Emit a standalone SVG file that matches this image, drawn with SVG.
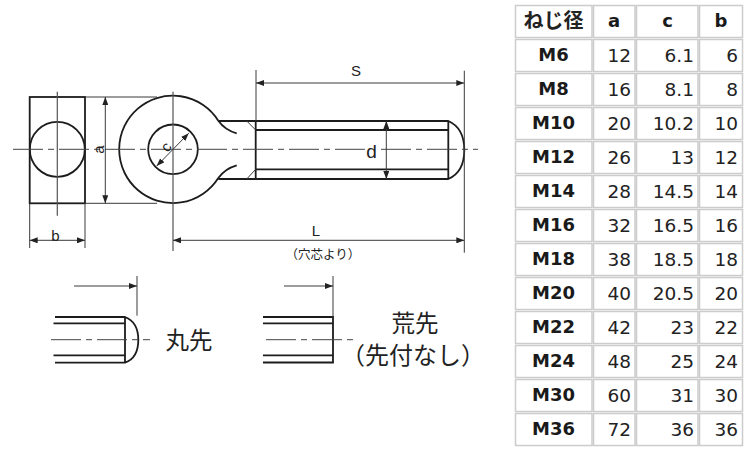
<svg xmlns="http://www.w3.org/2000/svg" width="750" height="450" viewBox="0 0 750 450">
<style>
.k{fill:none;stroke:#1c1c1c;stroke-width:1.8}
.t{fill:none;stroke:#3a3a3a;stroke-width:1}
.c{fill:none;stroke:#444;stroke-width:1;stroke-dasharray:30 5 6 5}
.v{fill:none;stroke:#555;stroke-width:1.2}
.d{font-family:"Liberation Sans",Arial,sans-serif;font-size:15px;fill:#222;text-anchor:middle}
.j{font-family:"Noto Sans CJK JP","Noto Sans",sans-serif;fill:#222;text-anchor:middle}
.cell{fill:#fff;stroke:#ccc;stroke-width:1.5}
.h{font-family:"DejaVu Sans",Verdana,sans-serif;font-size:18px;font-weight:bold;fill:#1a1a1a;text-anchor:middle}
.n{font-family:"DejaVu Sans",Verdana,sans-serif;font-size:18.5px;fill:#222;text-anchor:end}
</style>
<defs>
<marker id="a" viewBox="0 0 8 6" refX="8" refY="3" markerWidth="8" markerHeight="6" markerUnits="userSpaceOnUse" orient="auto-start-reverse"><path d="M0 0L8 3L0 6Z" fill="#222"/></marker>
</defs>
<rect width="750" height="450" fill="#fff"/>
<g id="block">
<rect class="k" x="29.7" y="97" width="55.3" height="106.3"/>
<circle class="k" cx="57.3" cy="149.3" r="27.5"/>
</g>
<g id="eye">
<path class="k" d="M218.3 120.7A53.7 53.7 0 1 0 218.3 178"/>
<circle class="k" cx="173" cy="149.3" r="24.8"/>
<path class="k" d="M218.3 120.7Q225 130 236.7 133.3M218.3 178Q225 168.600 236.7 165.300"/>
</g>
<g id="shaft">
<path class="k" d="M218.3 121H448.300Q464.300 128 464.300 150T448.300 179H218.300M255.700 121V179M448.300 121V179M255.700 130H448.300M255.700 169.300H448.300"/>
<path class="t" d="M246.700 121L255.700 130M246.700 179L255.700 169.300"/>
</g>
<g id="connectors">
<path class="c" d="M13 149.300H478"/>
<path class="v" d="M57.300 91.700V215.700M173 91.700V251"/>
<path class="t" d="M85 97H157M85 203.300H157M29.700 203.300V248M85 203.300V248M256 70V121M464.300 70.700V252.700"/>
<path class="t" marker-start="url(#a)" marker-end="url(#a)" d="M105.300 97V203.300"/>
<path class="t" marker-start="url(#a)" marker-end="url(#a)" d="M29.700 240.300H85"/>
<path class="t" marker-start="url(#a)" marker-end="url(#a)" d="M156.700 166L188.700 133.300"/>
<path class="t" marker-start="url(#a)" marker-end="url(#a)" d="M256 83H464.300"/>
<path class="t" marker-start="url(#a)" marker-end="url(#a)" d="M173 240.300H464.300"/>
<path class="t" marker-start="url(#a)" marker-end="url(#a)" d="M386.300 121V179"/>
</g>
<g id="labels">
<text class="d" x="0" y="0" transform="translate(104 149.500) rotate(-90)">a</text>
<text class="d" x="55.500" y="241">b</text>
<text class="d" x="0" y="0" transform="translate(170 150) rotate(-52)">c</text>
<text class="d" x="356" y="76">S</text>
<text class="d" x="316" y="236">L</text>
<text x="371.500" y="158" style="font-family:'Liberation Sans',sans-serif;font-size:19px;fill:#222;text-anchor:middle;paint-order:stroke;stroke:#fff;stroke-width:5px">d</text>
<text class="j" x="323" y="258.500" font-size="12.500">（穴芯より）</text>
</g>
<g id="round-tip">
<path class="k" d="M55 317H125Q138.300 322 138.300 340T125 362.700H55M53.500 323.300H125M53.500 355.300H125M125 317V362.700"/>
<path class="c" d="M51 339.700H150"/>
<path class="t" d="M137 276V315.700"/>
<path class="t" marker-end="url(#a)" d="M74 286H137"/>
<text class="j" x="189" y="348.500" font-size="23.500">丸先</text>
</g>
<g id="flat-tip">
<path class="k" d="M263 317H333V362.500H263M263 323.300H333M263 355.300H333"/>
<path class="c" d="M266 339.700H357"/>
<path class="t" d="M333 276V317"/>
<path class="t" marker-end="url(#a)" d="M284 286H333"/>
<text class="j" x="415" y="332" font-size="23.500">荒先</text>
<text class="j" x="413" y="364" font-size="24">（先付なし）</text>
</g>
<g id="table">
<rect class="cell" x="515.500" y="5.500" width="76.500" height="32"/><rect class="cell" x="593.500" y="5.500" width="41.500" height="32"/><rect class="cell" x="636.500" y="5.500" width="61.500" height="32"/><rect class="cell" x="699.500" y="5.500" width="43" height="32"/>
<rect class="cell" x="515.500" y="39.500" width="76.500" height="32"/><rect class="cell" x="593.500" y="39.500" width="41.500" height="32"/><rect class="cell" x="636.500" y="39.500" width="61.500" height="32"/><rect class="cell" x="699.500" y="39.500" width="43" height="32"/>
<rect class="cell" x="515.500" y="73.500" width="76.500" height="32"/><rect class="cell" x="593.500" y="73.500" width="41.500" height="32"/><rect class="cell" x="636.500" y="73.500" width="61.500" height="32"/><rect class="cell" x="699.500" y="73.500" width="43" height="32"/>
<rect class="cell" x="515.500" y="107.500" width="76.500" height="32"/><rect class="cell" x="593.500" y="107.500" width="41.500" height="32"/><rect class="cell" x="636.500" y="107.500" width="61.500" height="32"/><rect class="cell" x="699.500" y="107.500" width="43" height="32"/>
<rect class="cell" x="515.500" y="141.500" width="76.500" height="32"/><rect class="cell" x="593.500" y="141.500" width="41.500" height="32"/><rect class="cell" x="636.500" y="141.500" width="61.500" height="32"/><rect class="cell" x="699.500" y="141.500" width="43" height="32"/>
<rect class="cell" x="515.500" y="175.500" width="76.500" height="32"/><rect class="cell" x="593.500" y="175.500" width="41.500" height="32"/><rect class="cell" x="636.500" y="175.500" width="61.500" height="32"/><rect class="cell" x="699.500" y="175.500" width="43" height="32"/>
<rect class="cell" x="515.500" y="209.500" width="76.500" height="32"/><rect class="cell" x="593.500" y="209.500" width="41.500" height="32"/><rect class="cell" x="636.500" y="209.500" width="61.500" height="32"/><rect class="cell" x="699.500" y="209.500" width="43" height="32"/>
<rect class="cell" x="515.500" y="243.500" width="76.500" height="32"/><rect class="cell" x="593.500" y="243.500" width="41.500" height="32"/><rect class="cell" x="636.500" y="243.500" width="61.500" height="32"/><rect class="cell" x="699.500" y="243.500" width="43" height="32"/>
<rect class="cell" x="515.500" y="277.500" width="76.500" height="32"/><rect class="cell" x="593.500" y="277.500" width="41.500" height="32"/><rect class="cell" x="636.500" y="277.500" width="61.500" height="32"/><rect class="cell" x="699.500" y="277.500" width="43" height="32"/>
<rect class="cell" x="515.500" y="311.500" width="76.500" height="32"/><rect class="cell" x="593.500" y="311.500" width="41.500" height="32"/><rect class="cell" x="636.500" y="311.500" width="61.500" height="32"/><rect class="cell" x="699.500" y="311.500" width="43" height="32"/>
<rect class="cell" x="515.500" y="345.500" width="76.500" height="32"/><rect class="cell" x="593.500" y="345.500" width="41.500" height="32"/><rect class="cell" x="636.500" y="345.500" width="61.500" height="32"/><rect class="cell" x="699.500" y="345.500" width="43" height="32"/>
<rect class="cell" x="515.500" y="379.500" width="76.500" height="32"/><rect class="cell" x="593.500" y="379.500" width="41.500" height="32"/><rect class="cell" x="636.500" y="379.500" width="61.500" height="32"/><rect class="cell" x="699.500" y="379.500" width="43" height="32"/>
<rect class="cell" x="515.500" y="413.500" width="76.500" height="32"/><rect class="cell" x="593.500" y="413.500" width="41.500" height="32"/><rect class="cell" x="636.500" y="413.500" width="61.500" height="32"/><rect class="cell" x="699.500" y="413.500" width="43" height="32"/>
<text class="j" x="553.500" y="28" font-size="20" font-weight="700">ねじ径</text><text class="h" x="614" y="27">a</text><text class="h" x="667.500" y="27">c</text><text class="h" x="721" y="27">b</text>
<text class="h" x="553.500" y="61">M6</text><text class="n" x="631" y="61.500">12</text><text class="n" x="694" y="61.500">6.1</text><text class="n" x="738" y="61.500">6</text>
<text class="h" x="553.500" y="95">M8</text><text class="n" x="631" y="95.500">16</text><text class="n" x="694" y="95.500">8.1</text><text class="n" x="738" y="95.500">8</text>
<text class="h" x="553.500" y="129">M10</text><text class="n" x="631" y="129.500">20</text><text class="n" x="694" y="129.500">10.2</text><text class="n" x="738" y="129.500">10</text>
<text class="h" x="553.500" y="163">M12</text><text class="n" x="631" y="163.500">26</text><text class="n" x="694" y="163.500">13</text><text class="n" x="738" y="163.500">12</text>
<text class="h" x="553.500" y="197">M14</text><text class="n" x="631" y="197.500">28</text><text class="n" x="694" y="197.500">14.5</text><text class="n" x="738" y="197.500">14</text>
<text class="h" x="553.500" y="231">M16</text><text class="n" x="631" y="231.500">32</text><text class="n" x="694" y="231.500">16.5</text><text class="n" x="738" y="231.500">16</text>
<text class="h" x="553.500" y="265">M18</text><text class="n" x="631" y="265.500">38</text><text class="n" x="694" y="265.500">18.5</text><text class="n" x="738" y="265.500">18</text>
<text class="h" x="553.500" y="299">M20</text><text class="n" x="631" y="299.500">40</text><text class="n" x="694" y="299.500">20.5</text><text class="n" x="738" y="299.500">20</text>
<text class="h" x="553.500" y="333">M22</text><text class="n" x="631" y="333.500">42</text><text class="n" x="694" y="333.500">23</text><text class="n" x="738" y="333.500">22</text>
<text class="h" x="553.500" y="367">M24</text><text class="n" x="631" y="367.500">48</text><text class="n" x="694" y="367.500">25</text><text class="n" x="738" y="367.500">24</text>
<text class="h" x="553.500" y="401">M30</text><text class="n" x="631" y="401.500">60</text><text class="n" x="694" y="401.500">31</text><text class="n" x="738" y="401.500">30</text>
<text class="h" x="553.500" y="435">M36</text><text class="n" x="631" y="435.500">72</text><text class="n" x="694" y="435.500">36</text><text class="n" x="738" y="435.500">36</text>
</g>
</svg>
